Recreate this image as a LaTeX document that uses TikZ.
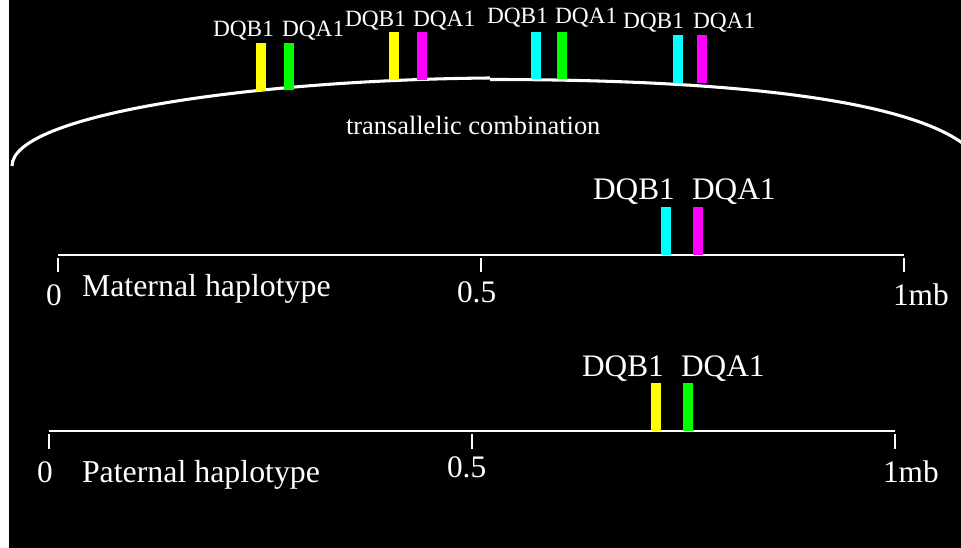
\documentclass[tikz,border=0pt]{standalone}
\usepackage{fontspec}
\setmainfont{Liberation Serif}
\definecolor{cyanc}{RGB}{0,255,255}
\definecolor{magc}{RGB}{255,0,255}
\definecolor{yelc}{RGB}{255,255,0}
\definecolor{grnc}{RGB}{0,255,0}
\begin{document}
\begin{tikzpicture}[x=0.75pt,y=-0.75pt,
  lab/.style={text=white, inner sep=0pt, outer sep=0pt, anchor=base west},
  big/.style={lab, font=\fontsize{23.5}{28}\selectfont},
  haplab/.style={lab, font=\fontsize{23.9}{28}\selectfont},
  small/.style={lab, font=\fontsize{17.5}{21}\selectfont},
  mid/.style={lab, font=\fontsize{19.8}{23}\selectfont},
  axisline/.style={white, line width=0.9pt},
  tickline/.style={white, line width=1.1pt},
  arcline/.style={white, line width=2.3pt},
  genebar/.style={fill=#1, draw=none}]
\useasboundingbox (0,0) rectangle (961,548);
\fill[white] (0,0) rectangle (961,548);
\fill[black] (9,0) rectangle (961,548);

% transallelic arc
\draw[arcline] (12,166) .. controls (12,115) and (250,80) .. (490,78);
\draw[arcline] (490,79.5) .. controls (700,79.5) and (900,95) .. (965,145);

% top bars
\fill[genebar=yelc] (256,43) rectangle ++(10,48);
\fill[genebar=grnc] (284,43) rectangle ++(10,47);
\fill[genebar=yelc] (389,32) rectangle ++(10,48);
\fill[genebar=magc] (417,32) rectangle ++(10,48);
\fill[genebar=cyanc] (531,32) rectangle ++(10,47);
\fill[genebar=grnc] (557,32) rectangle ++(10,47);
\fill[genebar=cyanc] (673,35) rectangle ++(10,48);
\fill[genebar=magc] (697,35) rectangle ++(10,48);

\node[small] (t1b) at (213,37) {DQB1};
\node[small] (t1a) at (282,37) {DQA1};
\node[small] (t2b) at (345,27) {DQB1};
\node[small] (t2a) at (413,27) {DQA1};
\node[small] (t3b) at (487,24) {DQB1};
\node[small] (t3a) at (555,24) {DQA1};
\node[small] (t4b) at (623,29) {DQB1};
\node[small] (t4a) at (693,29) {DQA1};
\node[mid] (trans) at (346,135) {transallelic combination};

% maternal
\coordinate (m0) at (58,255);
\coordinate (m1) at (904,255);
\draw[axisline] (m0) -- (m1);
\draw[tickline] (58,258) -- (58,272);
\draw[tickline] (481,258) -- (481,272);
\draw[tickline] (904,258) -- (904,272);
\fill[genebar=cyanc] (661,207) rectangle ++(10,48);
\fill[genebar=magc] (693,207) rectangle ++(10,48);
\node[big] (mb) at (593,200) {DQB1};
\node[big] (ma) at (692,200) {DQA1};
\node[big] (mzero) at (46,306) {0};
\node[haplab] (mname) at (82,297) {Maternal haplotype};
\node[big] (mhalf) at (457,303) {0.5};
\node[big] (mone) at (893,306) {1mb};

% paternal
\coordinate (p0) at (49,431);
\coordinate (p1) at (895,431);
\draw[axisline] (p0) -- (p1);
\draw[tickline] (49,434) -- (49,449);
\draw[tickline] (472,434) -- (472,449);
\draw[tickline] (895,434) -- (895,449);
\fill[genebar=yelc] (651,383) rectangle ++(10,48);
\fill[genebar=grnc] (683,383) rectangle ++(10,48);
\node[big] (pb) at (582,377) {DQB1};
\node[big] (pa) at (681,377) {DQA1};
\node[big] (pzero) at (37,483) {0};
\node[haplab] (pname) at (82,483) {Paternal haplotype};
\node[big] (phalf) at (447,478) {0.5};
\node[big] (pone) at (883,483) {1mb};
\end{tikzpicture}
\end{document}
